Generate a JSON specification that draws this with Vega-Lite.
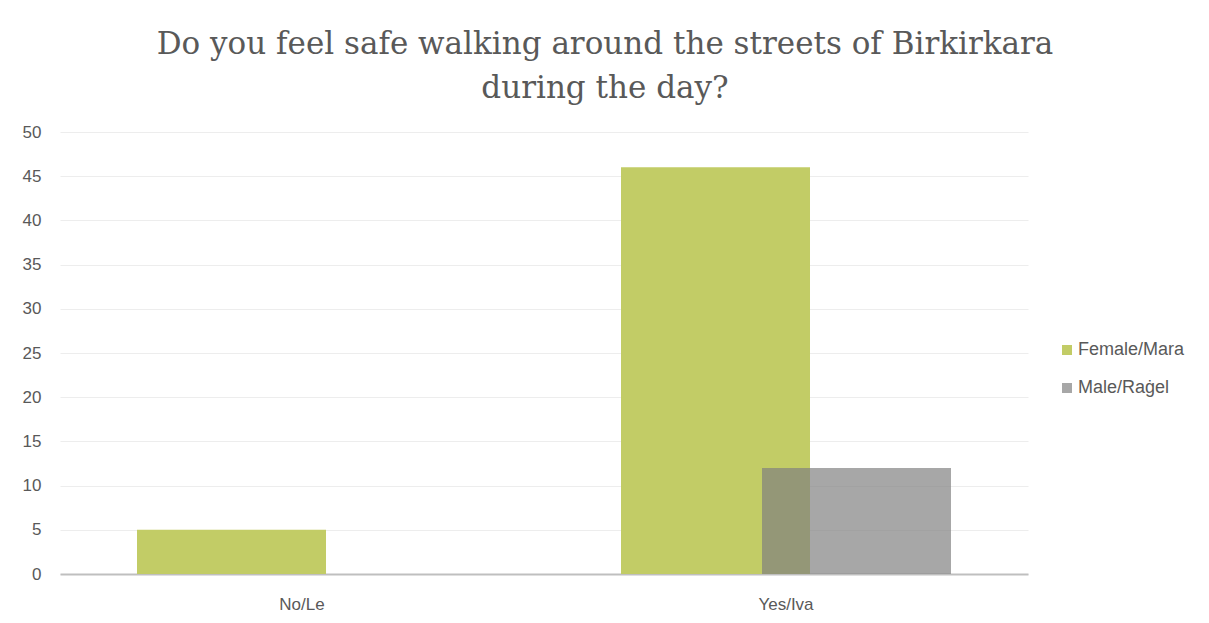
{
  "$schema": "https://vega.github.io/schema/vega-lite/v6.json",
  "autosize": {"type": "none"},
  "padding": {"left": 60, "top": 132, "right": 181, "bottom": 49},
  "width": 968,
  "height": 442,
  "background": "white",
  "title": {
    "text": ["Do you feel safe walking around the streets of Birkirkara", "during the day?"],
    "font": "DejaVu Serif",
    "fontSize": 31,
    "fontWeight": "normal",
    "color": "#595959",
    "anchor": "middle",
    "frame": "group",
    "dx": 61,
    "offset": 18,
    "lineHeight": 44
  },
  "data": {
    "values": [
      {"answer": "No/Le", "gender": "Female/Mara", "count": 5},
      {"answer": "No/Le", "gender": "Male/Raġel", "count": 0},
      {"answer": "Yes/Iva", "gender": "Female/Mara", "count": 46},
      {"answer": "Yes/Iva", "gender": "Male/Raġel", "count": 12}
    ]
  },
  "mark": {"type": "bar", "width": 189},
  "encoding": {
    "x": {
      "field": "answer",
      "type": "nominal",
      "sort": ["No/Le", "Yes/Iva"],
      "scale": {"paddingInner": 0, "paddingOuter": 0},
      "axis": {
        "title": null,
        "labelAngle": 0,
        "labelFont": "Liberation Sans",
        "labelFontSize": 17,
        "labelColor": "#595959",
        "labelPadding": 22,
        "ticks": false,
        "domainColor": "#bfbfbf",
        "domainWidth": 2
      }
    },
    "xOffset": {
      "field": "gender",
      "type": "nominal",
      "scale": {"type": "point", "range": [171.5, 312.5], "padding": 0}
    },
    "y": {
      "field": "count",
      "type": "quantitative",
      "scale": {"domain": [0, 50]},
      "axis": {
        "title": null,
        "values": [0, 5, 10, 15, 20, 25, 30, 35, 40, 45, 50],
        "labelFont": "Liberation Sans",
        "labelFontSize": 17,
        "labelColor": "#595959",
        "labelPadding": 19,
        "ticks": false,
        "domain": false,
        "gridColor": "#ededed",
        "gridWidth": 1
      }
    },
    "color": {
      "field": "gender",
      "type": "nominal",
      "scale": {"domain": ["Female/Mara", "Male/Raġel"], "range": ["#c2cc66", "#7f7f7f"]},
      "legend": {
        "title": null,
        "orient": "none",
        "legendX": 998,
        "legendY": 209,
        "symbolType": "square",
        "symbolSize": 100,
        "symbolStrokeWidth": 0,
        "labelFont": "Liberation Sans",
        "labelFontSize": 18,
        "labelColor": "#595959",
        "rowPadding": 20,
        "labelOffset": 2
      }
    },
    "opacity": {
      "field": "gender",
      "type": "nominal",
      "scale": {"domain": ["Female/Mara", "Male/Raġel"], "range": [1, 0.69]},
      "legend": null
    }
  },
  "config": {"view": {"stroke": null}}
}
